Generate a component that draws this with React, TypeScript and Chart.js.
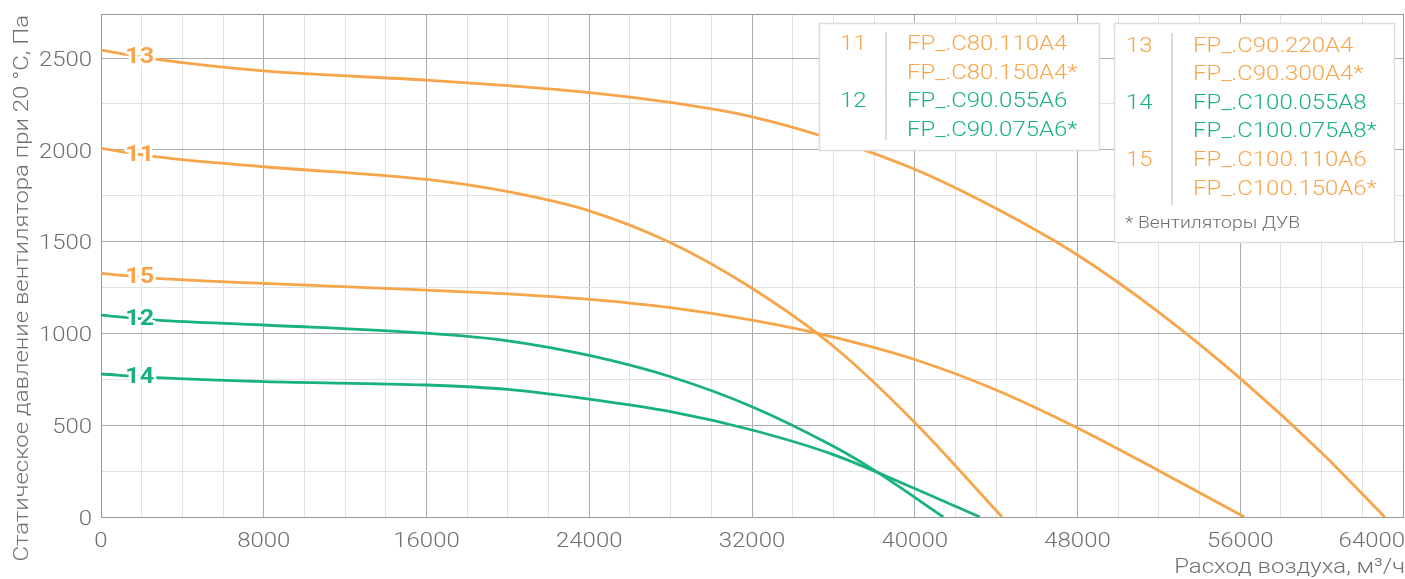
import React, { useEffect, useRef } from 'react';
import { Chart, registerables } from 'chart.js';

Chart.register(...registerables);

// ---------- data ----------
const xTickLabels = [0, 8000, 16000, 24000, 32000, 40000, 48000, 56000, 64000];
const yTickLabels = [0, 500, 1000, 1500, 2000, 2500];
const xMinorStep = 2000;
const yMinorStep = 250;
const xMax = 64000;
const yMax = 2740;
const xTitle = 'Расход воздуха, м³/ч';
const yTitle = 'Статическое давление вентилятора при 20 °С, Па';

const flow11 = [0, 2750, 8000, 16000, 20000, 24000, 28000, 32000, 36000, 40000, 44290];
const pressure11 = [2008, 1962, 1908, 1839, 1772, 1668, 1494, 1246, 930, 515, 0];

const flow12 = [0, 2750, 8000, 16000, 20000, 24000, 28000, 32000, 36000, 38000, 41400];
const pressure12 = [1100, 1073, 1046, 1001, 960, 880, 764, 601, 385, 255, 0];

const flow13 = [0, 2750, 8000, 16000, 20000, 24000, 28000, 32000, 36000, 40000, 44000, 48000, 52000, 56000, 60000, 63100];
const pressure13 = [2543, 2493, 2430, 2380, 2350, 2312, 2258, 2180, 2056, 1894, 1680, 1427, 1115, 755, 350, 0];

const flow14 = [0, 2750, 8000, 16000, 20000, 24000, 28000, 32000, 36000, 40000, 43200];
const pressure14 = [779, 759, 737, 719, 695, 642, 574, 474, 340, 155, 0];

const flow15 = [0, 2750, 8000, 16000, 20000, 24000, 28000, 32000, 36000, 40000, 44000, 48000, 52000, 56200];
const pressure15 = [1327, 1300, 1273, 1236, 1215, 1185, 1140, 1072, 980, 858, 692, 485, 252, 0];

const curveIds = ['11', '12', '13', '14', '15'];
const curveFlows: Record<string, number[]> = { '11': flow11, '12': flow12, '13': flow13, '14': flow14, '15': flow15 };
const curvePressures: Record<string, number[]> = { '11': pressure11, '12': pressure12, '13': pressure13, '14': pressure14, '15': pressure15 };
const curveModels: Record<string, string[]> = {
  '11': ['FP_.C80.110A4', 'FP_.C80.150A4*'],
  '12': ['FP_.C90.055A6', 'FP_.C90.075A6*'],
  '13': ['FP_.C90.220A4', 'FP_.C90.300A4*'],
  '14': ['FP_.C100.055A8', 'FP_.C100.075A8*'],
  '15': ['FP_.C100.110A6', 'FP_.C100.150A6*'],
};
const legendGroups = [['11', '12'], ['13', '14', '15']];
const footnote = '* Вентиляторы ДУВ';
const curveLabelFlow = 1900;

// ---------- styles ----------
const ORANGE = '#F7A54A';
const GREEN = '#19B27E';
const curveColors: Record<string, string> = { '11': ORANGE, '12': GREEN, '13': ORANGE, '14': GREEN, '15': ORANGE };
const TEXT_GRAY = '#6f6f6f';
const GRID_MAJOR = '#ababab';
const GRID_MINOR = '#e1e1e1';
const BORDER = '#999999';
const SX = 1.14;
const FONT = '300 21px Roboto';
const LABEL_FONT = 'bold 22px Roboto';
const NOTE_FONT = '300 17px Roboto';

const legendBoxes = [
  { x: 819, y: 23, w: 280, h: 127, numX: 840, codeX: 907, divX: 886, divTop: 32, divBottom: 140, firstY: 42.5, note: false },
  { x: 1114, y: 23, w: 280, h: 219, numX: 1126, codeX: 1193, divX: 1172, divTop: 33, divBottom: 205, firstY: 44, note: true },
];
const LINE_STEP = 28.6;

function drawText(ctx: CanvasRenderingContext2D, s: string, x: number, y: number, align: string, font: string, color: string) {
  ctx.save();
  ctx.font = font;
  ctx.fillStyle = color;
  ctx.textBaseline = 'alphabetic';
  ctx.textAlign = 'left';
  const w = ctx.measureText(s).width * SX;
  const left = align === 'left' ? x : align === 'right' ? x - w : x - w / 2;
  ctx.translate(left, y);
  ctx.scale(SX, 1);
  ctx.fillText(s, 0, 0);
  ctx.restore();
}

function interp(xs: number[], ys: number[], x: number) {
  for (let i = 0; i < xs.length - 1; i++) {
    if (x >= xs[i] && x <= xs[i + 1]) {
      const t = (x - xs[i]) / (xs[i + 1] - xs[i]);
      return ys[i] + t * (ys[i + 1] - ys[i]);
    }
  }
  return ys[0];
}

const textPlugin = {
  id: 'customTexts',
  afterDraw(chart: any) {
    const ctx: CanvasRenderingContext2D = chart.ctx;
    const xs = chart.scales.x;
    const ys = chart.scales.y;
    const ca = chart.chartArea;

    // tick labels
    xTickLabels.forEach((v, i) => {
      const last = i === xTickLabels.length - 1;
      const px = xs.getPixelForValue(v);
      drawText(ctx, String(v), last ? chart.width : px, ca.bottom + 30, last ? 'right' : 'center', FONT, TEXT_GRAY);
    });
    yTickLabels.forEach((v) => {
      const py = ys.getPixelForValue(v);
      drawText(ctx, String(v), ca.left - 9, py + 7.7, 'right', FONT, TEXT_GRAY);
    });

    // axis titles
    drawText(ctx, xTitle, chart.width, chart.height - 6, 'right', FONT, TEXT_GRAY);
    ctx.save();
    ctx.font = FONT;
    ctx.fillStyle = TEXT_GRAY;
    ctx.textBaseline = 'alphabetic';
    ctx.textAlign = 'right';
    ctx.translate(28, ca.top + 1);
    ctx.rotate(-Math.PI / 2);
    ctx.scale(SX, 1);
    ctx.fillText(yTitle, 0, 0);
    ctx.restore();

    // curve labels
    curveIds.forEach((id) => {
      const p = interp(curveFlows[id], curvePressures[id], curveLabelFlow);
      const px = xs.getPixelForValue(curveLabelFlow);
      const py = ys.getPixelForValue(p);
      ctx.save();
      ctx.font = LABEL_FONT;
      const w = ctx.measureText(id).width * SX;
      ctx.translate(px - w / 2, py + 6.3);
      ctx.scale(SX, 1);
      ctx.lineJoin = 'round';
      ctx.lineWidth = 5;
      ctx.strokeStyle = '#ffffff';
      ctx.strokeText(id, 0, 0);
      ctx.fillStyle = curveColors[id];
      ctx.fillText(id, 0, 0);
      ctx.restore();
    });

    // legend boxes
    legendGroups.forEach((group, gi) => {
      const b = legendBoxes[gi];
      ctx.save();
      ctx.fillStyle = '#ffffff';
      ctx.fillRect(b.x, b.y, b.w, b.h);
      ctx.strokeStyle = '#dcdcdc';
      ctx.lineWidth = 1.5;
      ctx.strokeRect(b.x + 0.5, b.y + 0.5, b.w, b.h);
      ctx.strokeStyle = '#cfcfcf';
      ctx.lineWidth = 1.5;
      ctx.beginPath();
      ctx.moveTo(b.divX, b.divTop);
      ctx.lineTo(b.divX, b.divBottom);
      ctx.stroke();
      ctx.restore();
      let line = 0;
      group.forEach((id) => {
        const col = curveColors[id];
        drawText(ctx, id, b.numX, b.firstY + line * LINE_STEP + 7.5, 'left', FONT, col);
        curveModels[id].forEach((m) => {
          drawText(ctx, m, b.codeX, b.firstY + line * LINE_STEP + 7.5, 'left', FONT, col);
          line++;
        });
      });
      if (b.note) {
        drawText(ctx, footnote, b.numX - 1, 228, 'left', NOTE_FONT, TEXT_GRAY);
      }
    });
  },
};

function gridColor(value: number, majorStep: number, max: number) {
  if (value === max) return BORDER;
  if (value % majorStep === 0) return GRID_MAJOR;
  return GRID_MINOR;
}

export default function App() {
  const ref = useRef<HTMLCanvasElement | null>(null);
  useEffect(() => {
    if (!ref.current) return;
    const xMajor = xTickLabels[1] - xTickLabels[0];
    const yMajor = yTickLabels[1] - yTickLabels[0];
    const chart = new Chart(ref.current, {
      type: 'line',
      data: {
        datasets: curveIds.map((id) => ({
          label: id,
          data: curveFlows[id].map((f, i) => ({ x: f, y: curvePressures[id][i] })),
          borderColor: curveColors[id],
          borderWidth: 2.8,
          pointRadius: 0,
          fill: false,
          cubicInterpolationMode: 'monotone' as const,
        })),
      },
      options: {
        animation: false,
        responsive: false,
        devicePixelRatio: 1,
        events: [],
        layout: { padding: { top: 14, right: 2, left: 0, bottom: 0 } },
        plugins: { legend: { display: false }, tooltip: { enabled: false } },
        scales: {
          x: {
            type: 'linear',
            min: 0,
            max: xMax,
            afterBuildTicks: (s: any) => {
              const t = [];
              for (let v = 0; v <= xMax; v += xMinorStep) t.push({ value: v });
              s.ticks = t;
            },
            afterFit: (s: any) => { s.height = 62; },
            ticks: { display: false },
            grid: {
              drawTicks: false,
              lineWidth: 1,
              color: (c: any) => gridColor(c.tick ? c.tick.value : 0, xMajor, xMax),
            },
            border: { color: BORDER, width: 1 },
          },
          y: {
            type: 'linear',
            min: 0,
            max: yMax,
            afterBuildTicks: (s: any) => {
              const t = [];
              for (let v = 0; v <= yMax; v += yMinorStep) t.push({ value: v });
              if (t[t.length - 1].value !== yMax) t.push({ value: yMax });
              s.ticks = t;
            },
            afterFit: (s: any) => { s.width = 101; },
            ticks: { display: false },
            grid: {
              drawTicks: false,
              lineWidth: 1,
              color: (c: any) => gridColor(c.tick ? c.tick.value : 0, yMajor, yMax),
            },
            border: { color: BORDER, width: 1 },
          },
        },
      },
      plugins: [textPlugin],
    } as any);
    return () => chart.destroy();
  }, []);
  return (
    <canvas
      ref={ref}
      width={1405}
      height={579}
      style={{ position: 'absolute', left: 0, top: 0, display: 'block' }}
    />
  );
}
